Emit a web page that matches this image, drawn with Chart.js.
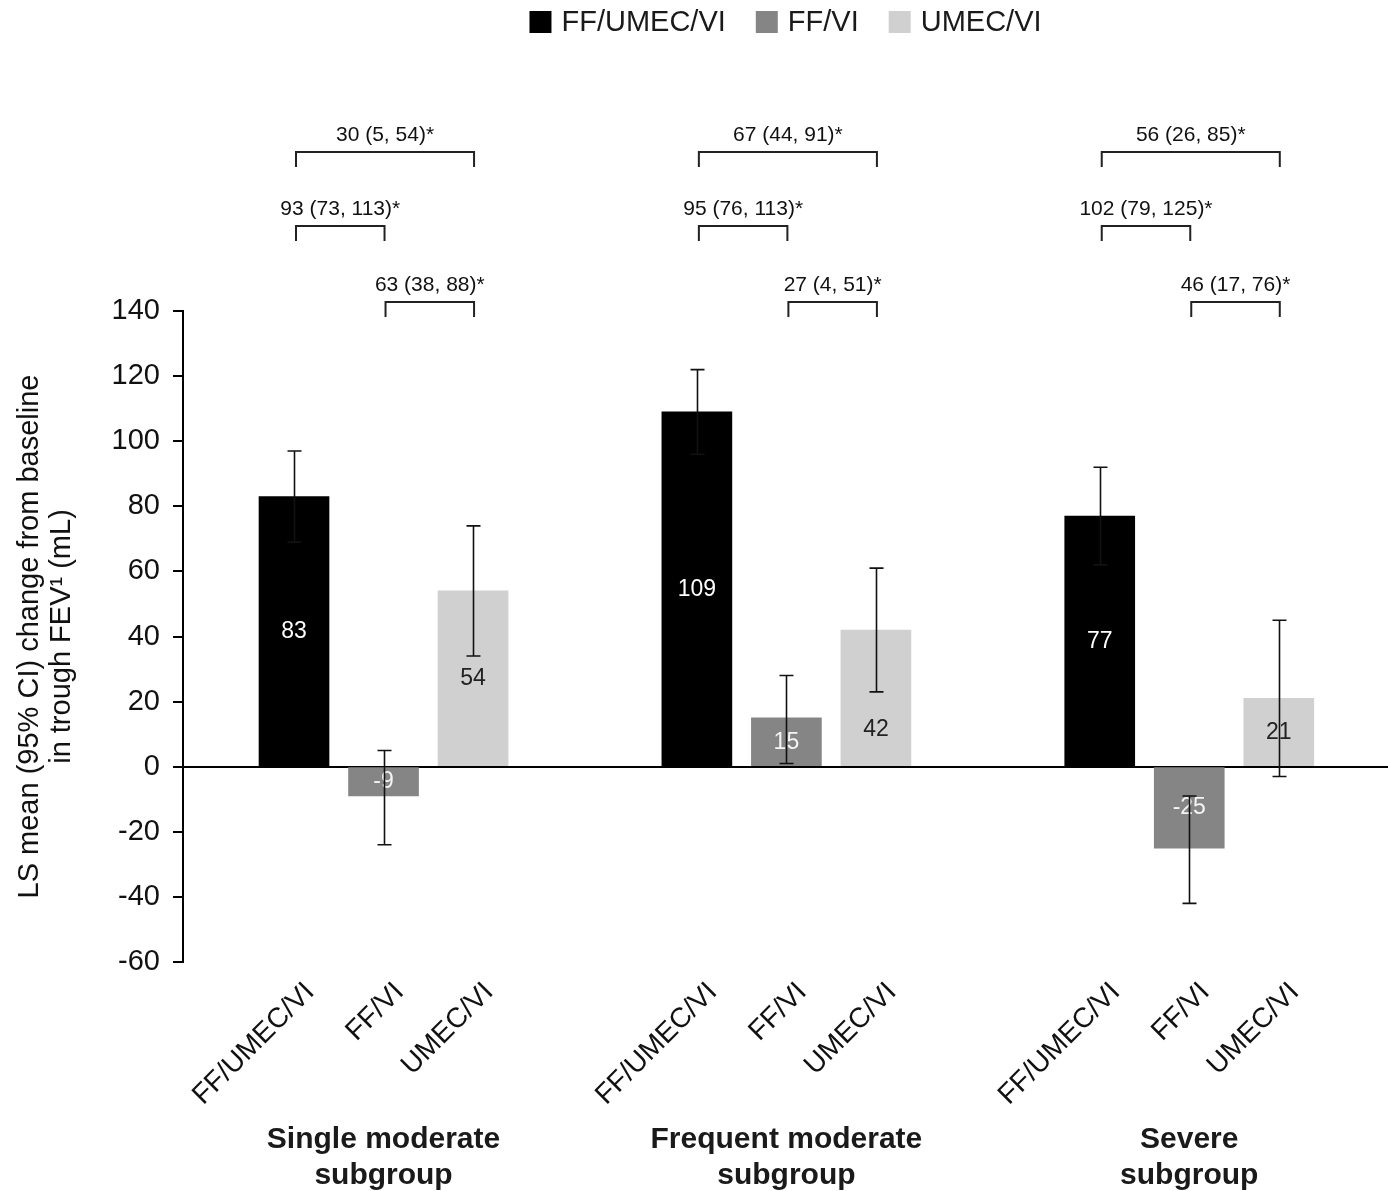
<!DOCTYPE html>
<html>
<head>
<meta charset="utf-8">
<script src="https://cdn.jsdelivr.net/npm/chart.js@4.4.0/dist/chart.umd.min.js"></script>
<style>
  html, body { margin: 0; padding: 0; background: #fff; }
  #wrap { width: 1388px; height: 1191px; }
</style>
</head>
<body>
<div id="wrap"><canvas id="fevChart"></canvas></div>
<script>
// subgroups (two-line labels) and treatments
const groups = [['Single moderate', 'subgroup'], ['Frequent moderate', 'subgroup'], ['Severe', 'subgroup']];
const treatments = ['FF/UMEC/VI', 'FF/VI', 'UMEC/VI'];

// LS mean change from baseline (mL), one value per subgroup
const meanTriple = [83, 109, 77];
const meanFfVi = [-9, 15, -25];
const meanUmecVi = [54, 42, 21];

// 95% CI ends
const lowTriple = [69, 96, 62];
const highTriple = [97, 122, 92];
const lowFfVi = [-24, 1, -42];
const highFfVi = [5, 28, -9];
const lowUmecVi = [34, 23, -3];
const highUmecVi = [74, 61, 45];

// treatment differences shown in the brackets
const diffTripleVsUmec = ['30 (5, 54)*', '67 (44, 91)*', '56 (26, 85)*'];
const diffTripleVsFf = ['93 (73, 113)*', '95 (76, 113)*', '102 (79, 125)*'];
const diffUmecVsFf = ['63 (38, 88)*', '27 (4, 51)*', '46 (17, 76)*'];

const yTicks = { min: -60, max: 140, step: 20 };

const colors = ['#000000', '#858585', '#d0d0d0'];
const valueColors = ['#ffffff', '#f4f4f4', '#222222'];
const means = [meanTriple, meanFfVi, meanUmecVi];
const lows = [lowTriple, lowFfVi, lowUmecVi];
const highs = [highTriple, highFfVi, highUmecVi];

const GROUP_STEP = 4.5; // bar slots between subgroup starts
const barX = (g, t) => g * GROUP_STEP + t;
const tickValues = [];
groups.forEach((_, g) => treatments.forEach((_, t) => tickValues.push(barX(g, t))));

Chart.defaults.font.family = "'Liberation Sans', Arial, sans-serif";
Chart.defaults.color = '#111';

const overlay = {
    id: 'overlay',
    afterDatasetsDraw(chart) {
        const { ctx, chartArea, scales: { x, y } } = chart;
        ctx.save();

        // values inside bars
        ctx.font = "23px 'Liberation Sans', Arial, sans-serif";
        ctx.textAlign = 'center';
        ctx.textBaseline = 'middle';
        means.forEach((vals, t) => {
            vals.forEach((v, g) => {
                let at = v / 2;
                const lo = lows[t][g];
                if (lo > 15 && at > lo - 5) at = lo / 2; // keep clear of the whisker
                ctx.fillStyle = valueColors[t];
                ctx.fillText(String(v), x.getPixelForValue(barX(g, t)), y.getPixelForValue(at));
            });
        });

        // error bars
        ctx.strokeStyle = '#111';
        ctx.lineWidth = 1.6;
        means.forEach((vals, t) => {
            vals.forEach((v, g) => {
                const px = Math.round(x.getPixelForValue(barX(g, t))) + 0.5;
                const top = y.getPixelForValue(highs[t][g]);
                const bot = y.getPixelForValue(lows[t][g]);
                ctx.beginPath();
                ctx.moveTo(px, top); ctx.lineTo(px, bot);
                ctx.moveTo(px - 7, top); ctx.lineTo(px + 7, top);
                ctx.moveTo(px - 7, bot); ctx.lineTo(px + 7, bot);
                ctx.stroke();
            });
        });

        // comparison brackets
        const rows = [
            { texts: diffTripleVsUmec, a: 0, b: 2, off: 159 },
            { texts: diffTripleVsFf, a: 0, b: 1, off: 85 },
            { texts: diffUmecVsFf, a: 1, b: 2, off: 9 }
        ];
        ctx.font = "21px 'Liberation Sans', Arial, sans-serif";
        ctx.fillStyle = '#111';
        ctx.strokeStyle = '#222';
        ctx.lineWidth = 2;
        rows.forEach(r => {
            groups.forEach((_, g) => {
                const x1 = x.getPixelForValue(barX(g, r.a)) + 2;
                const x2 = x.getPixelForValue(barX(g, r.b)) + 1;
                const yy = chartArea.top - r.off;
                ctx.beginPath();
                ctx.moveTo(x1, yy + 15); ctx.lineTo(x1, yy); ctx.lineTo(x2, yy); ctx.lineTo(x2, yy + 15);
                ctx.stroke();
                ctx.fillText(r.texts[g], (x1 + x2) / 2, yy - 17);
            });
        });

        // subgroup names under the tick labels
        ctx.font = "bold 30px 'Liberation Sans', Arial, sans-serif";
        ctx.fillStyle = '#1a1a1a';
        groups.forEach((lines, g) => {
            const cx = x.getPixelForValue(barX(g, 1));
            lines.forEach((line, i) => ctx.fillText(line, cx, chartArea.bottom + 178 + i * 36));
        });

        // legend row
        ctx.font = "29px 'Liberation Sans', Arial, sans-serif";
        const box = 22, gapText = 10, gapItem = 30;
        const widths = treatments.map(s => box + gapText + ctx.measureText(s).width);
        const total = widths.reduce((a, b) => a + b, 0) + gapItem * (widths.length - 1);
        let lx = (chartArea.left + chartArea.right) / 2 - total / 2;
        const ly = 22;
        ctx.textAlign = 'left';
        treatments.forEach((s, t) => {
            ctx.fillStyle = colors[t];
            ctx.fillRect(lx, ly - box / 2, box, box);
            ctx.fillStyle = '#1a1a1a';
            ctx.fillText(s, lx + box + gapText, ly + 1);
            lx += widths[t] + gapItem;
        });

        ctx.restore();
    }
};

const ctx = document.getElementById('fevChart').getContext('2d');
const fevChart = new Chart(ctx, {
    type: 'bar',
    data: {
        datasets: treatments.map((name, t) => ({
            label: name,
            data: means[t].map((v, g) => ({ x: barX(g, t), y: v })),
            backgroundColor: colors[t],
            barThickness: 70,
            grouped: false
        }))
    },
    options: {
        responsive: true,
        maintainAspectRatio: false,
        animation: false,
        layout: { padding: { top: 311, left: 0, right: 0, bottom: 0 } },
        plugins: {
            legend: { display: false },
            tooltip: { enabled: false }
        },
        scales: {
            x: {
                type: 'linear',
                offset: false,
                min: -1.24,
                max: 12.22,
                grid: { display: false },
                border: { display: false },
                afterBuildTicks: axis => { axis.ticks = tickValues.map(v => ({ value: v })); },
                afterFit: axis => { axis.height = 229; },
                ticks: {
                    autoSkip: false,
                    minRotation: 45,
                    maxRotation: 45,
                    padding: 6,
                    labelOffset: 16,
                    font: { size: 28 },
                    color: '#111',
                    callback: (value, index) => treatments[index % treatments.length]
                }
            },
            y: {
                min: yTicks.min,
                max: yTicks.max,
                afterFit: axis => { axis.width = 183; },
                ticks: {
                    stepSize: yTicks.step,
                    font: { size: 29 },
                    color: '#111',
                    padding: 13
                },
                grid: {
                    color: c => (c.tick && c.tick.value === 0 ? '#000' : 'rgba(0,0,0,0)'),
                    lineWidth: 2,
                    tickColor: '#000',
                    tickLength: 10,
                    tickWidth: 2
                },
                border: { display: true, color: '#000', width: 2 },
                title: {
                    display: true,
                    text: ['LS mean (95% CI) change from baseline', 'in trough FEV\u00B9 (mL)'],
                    font: { size: 29, lineHeight: 1.1 },
                    color: '#111',
                    padding: { top: 14, bottom: 0 }
                }
            }
        }
    },
    plugins: [overlay]
});
</script>
</body>
</html>
